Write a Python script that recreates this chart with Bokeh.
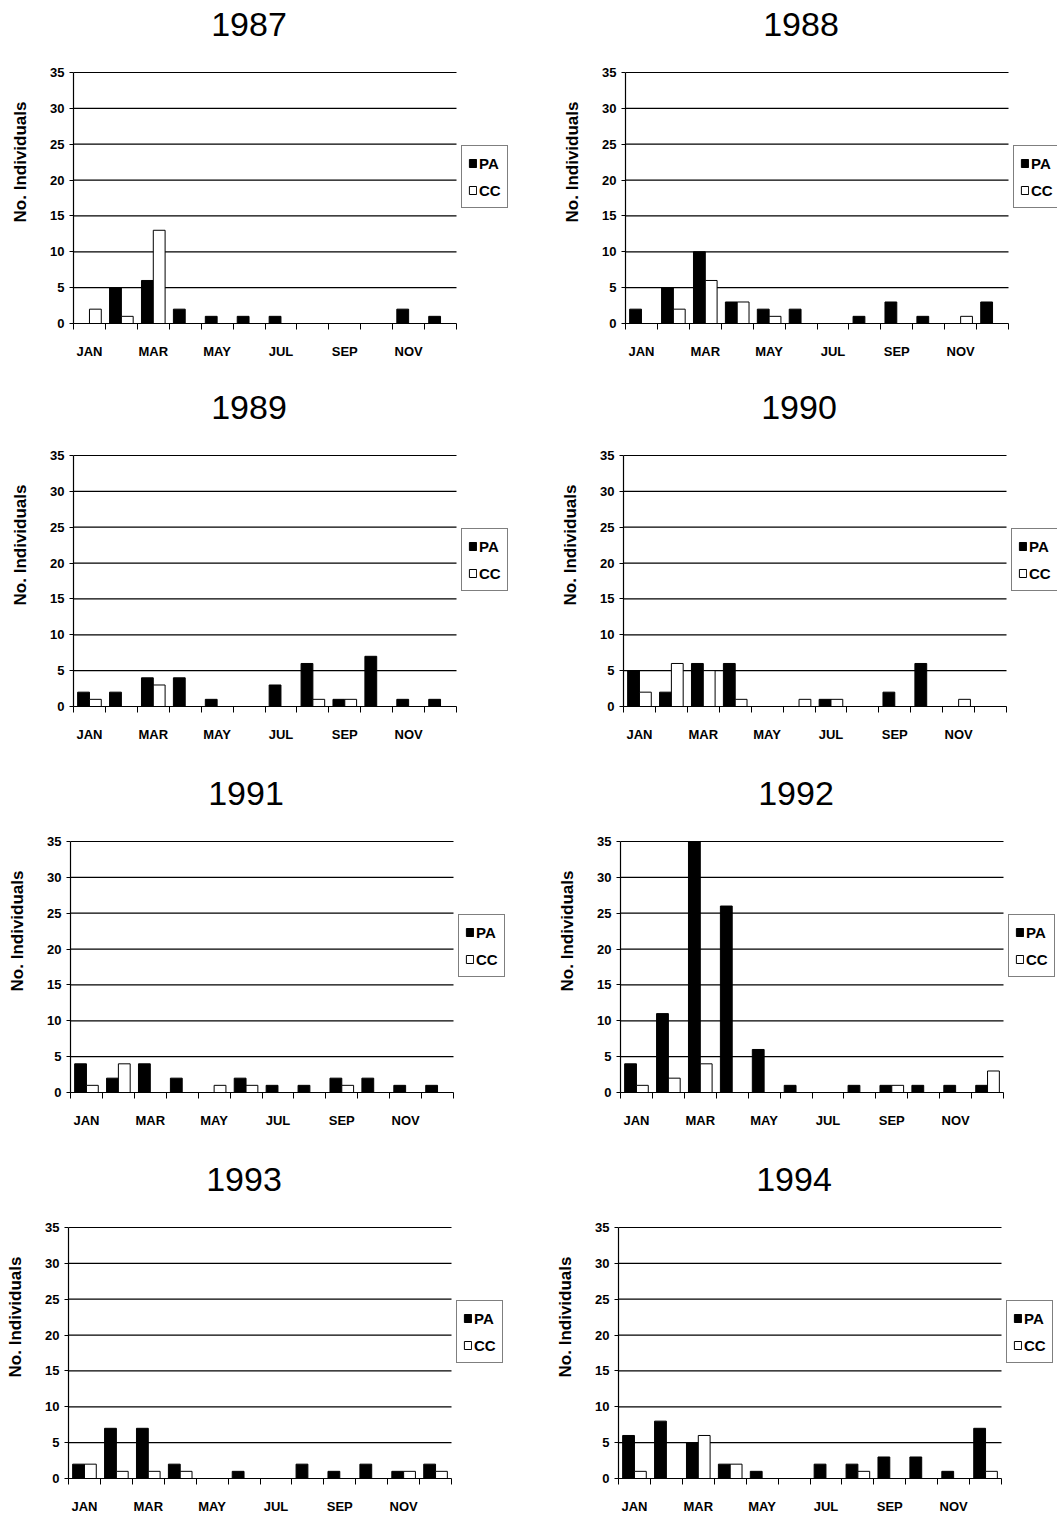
from bokeh.plotting import figure
from bokeh.layouts import column, row
from bokeh.models import Range1d, FixedTicker, Legend, LegendItem, ColumnDataSource, Label
from bokeh.embed import file_html
from bokeh.resources import INLINE

months = ["JAN", "FEB", "MAR", "APR", "MAY", "JUN", "JUL", "AUG", "SEP", "OCT", "NOV", "DEC"]
tick_labels = ["JAN", "MAR", "MAY", "JUL", "SEP", "NOV"]
tick_pos = [0.5, 2.5, 4.5, 6.5, 8.5, 10.5]
y_ticks = [0, 5, 10, 15, 20, 25, 30, 35]
years = ["1987", "1988", "1989", "1990", "1991", "1992", "1993", "1994"]

pa_1987 = [0, 5, 6, 2, 1, 1, 1, 0, 0, 0, 2, 1]
cc_1987 = [2, 1, 13, 0, 0, 0, 0, 0, 0, 0, 0, 0]
pa_1988 = [2, 5, 10, 3, 2, 2, 0, 1, 3, 1, 0, 3]
cc_1988 = [0, 2, 6, 3, 1, 0, 0, 0, 0, 0, 1, 0]
pa_1989 = [2, 2, 4, 4, 1, 0, 3, 6, 1, 7, 1, 1]
cc_1989 = [1, 0, 3, 0, 0, 0, 0, 1, 1, 0, 0, 0]
pa_1990 = [5, 2, 6, 6, 0, 0, 1, 0, 2, 6, 0, 0]
cc_1990 = [2, 6, 5, 1, 0, 1, 1, 0, 0, 0, 1, 0]
pa_1991 = [4, 2, 4, 2, 0, 2, 1, 1, 2, 2, 1, 1]
cc_1991 = [1, 4, 0, 0, 1, 1, 0, 0, 1, 0, 0, 0]
pa_1992 = [4, 11, 35, 26, 6, 1, 0, 1, 1, 1, 1, 1]
cc_1992 = [1, 2, 4, 0, 0, 0, 0, 0, 1, 0, 0, 3]
pa_1993 = [2, 7, 7, 2, 0, 1, 0, 2, 1, 2, 1, 2]
cc_1993 = [2, 1, 1, 1, 0, 0, 0, 0, 0, 0, 1, 1]
pa_1994 = [6, 8, 5, 2, 1, 0, 2, 2, 3, 3, 1, 7]
cc_1994 = [1, 0, 6, 2, 0, 0, 0, 1, 0, 0, 0, 1]

PA = [pa_1987, pa_1988, pa_1989, pa_1990, pa_1991, pa_1992, pa_1993, pa_1994]
CC = [cc_1987, cc_1988, cc_1989, cc_1990, cc_1991, cc_1992, cc_1993, cc_1994]

BOLD_FONT = "Liberation Sans"
AX_W = 383            # pixel width of the 12-month axis
AX_H = 251            # pixel height of the 0-35 axis
PX_X = AX_W / 12.0
PX_Y = AX_H / 35.0
LEFT_W = 553
RIGHT_W = 504
row_heights = [383, 386, 386, 364]
row_frame_h = [323, 323, 323, 323]
row_lx = [73, 73, 70, 68]
row_rx = [625, 623, 620, 618]


def make_panel(year, pa, cc, width, border_left, height, frame_h):
    frame_w = width - border_left
    bb = height - frame_h
    p = figure(width=width, height=height, output_backend="svg",
               toolbar_location=None,
               x_range=Range1d(0, frame_w / PX_X), y_range=Range1d(0, frame_h / PX_Y),
               min_border_left=border_left, min_border_right=0,
               min_border_top=0, min_border_bottom=bb,
               background_fill_color="white", border_fill_color="white")
    p.outline_line_color = None
    p.xgrid.visible = False
    p.ygrid.visible = False

    # horizontal grid lines at the y tick values
    gl = y_ticks[1:]
    p.segment(x0=[0] * len(gl), x1=[12] * len(gl), y0=gl, y1=gl,
              line_color="black", line_width=1.2)

    idx = list(range(12))
    src = ColumnDataSource(dict(
        xpa=[i + 0.315 for i in idx], xcc=[i + 0.685 for i in idx], pa=pa, cc=cc))
    r_pa = p.vbar(x="xpa", top="pa", width=0.37, bottom=0, source=src,
                  fill_color="black", line_color="black", line_width=1)
    r_cc = p.vbar(x="xcc", top="cc", width=0.37, bottom=0, source=src,
                  fill_color="white", line_color="black", line_width=1)

    title = Label(x=6 - 16 / PX_X, y=35, y_offset=48, text=year, text_align="center",
                  text_baseline="middle", text_font="Liberation Sans",
                  text_font_size="34px", text_color="black")
    p.add_layout(title)

    xa = p.xaxis[0]
    xa.bounds = (0, 12)
    xa.ticker = FixedTicker(ticks=tick_pos, minor_ticks=list(range(13)))
    xa.major_label_overrides = {t: lab for t, lab in zip(tick_pos, tick_labels)}
    xa.major_tick_in = 0
    xa.major_tick_out = 0
    xa.minor_tick_in = 0
    xa.minor_tick_out = 6
    xa.minor_tick_line_color = "black"
    xa.axis_line_color = "black"
    xa.axis_line_width = 1.2
    xa.major_label_standoff = 14
    xa.major_label_text_font = BOLD_FONT
    xa.major_label_text_font_style = "bold"
    xa.major_label_text_font_size = "13px"
    xa.major_label_text_color = "black"

    ya = p.yaxis[0]
    ya.bounds = (0, 35)
    ya.ticker = FixedTicker(ticks=y_ticks)
    ya.major_tick_in = 0
    ya.major_tick_out = 4
    ya.minor_tick_line_color = None
    ya.axis_line_color = "black"
    ya.axis_line_width = 1.2
    ya.major_label_standoff = 5
    ya.major_label_text_font = BOLD_FONT
    ya.major_label_text_font_style = "bold"
    ya.major_label_text_font_size = "13px"
    ya.major_label_text_color = "black"
    ya.axis_label = "No. Individuals"
    ya.axis_label_text_font = BOLD_FONT
    ya.axis_label_text_font_style = "bold"
    ya.axis_label_text_font_size = "17px"
    ya.axis_label_text_color = "black"
    ya.axis_label_standoff = 17

    legend = Legend(items=[LegendItem(label="PA", renderers=[r_pa]),
                           LegendItem(label="CC", renderers=[r_cc])],
                    location=(AX_W + 5, 115), margin=0, padding=6, spacing=5,
                    label_height=22, glyph_height=10, glyph_width=9, label_standoff=2,
                    border_line_color="black", border_line_width=1,
                    background_fill_color="white", background_fill_alpha=1.0,
                    label_text_font=BOLD_FONT, label_text_font_style="bold",
                    label_text_font_size="15px", label_text_color="black")
    p.add_layout(legend, "center")
    return p


rows = []
for r in range(4):
    h = row_heights[r]
    fh = row_frame_h[r]
    left = make_panel(years[2 * r], PA[2 * r], CC[2 * r], LEFT_W, row_lx[r], h, fh)
    right = make_panel(years[2 * r + 1], PA[2 * r + 1], CC[2 * r + 1], RIGHT_W,
                       row_rx[r] - LEFT_W, h, fh)
    rows.append(row(left, right))

layout = column(*rows)
open("out.html", "w").write(file_html(layout, INLINE))
